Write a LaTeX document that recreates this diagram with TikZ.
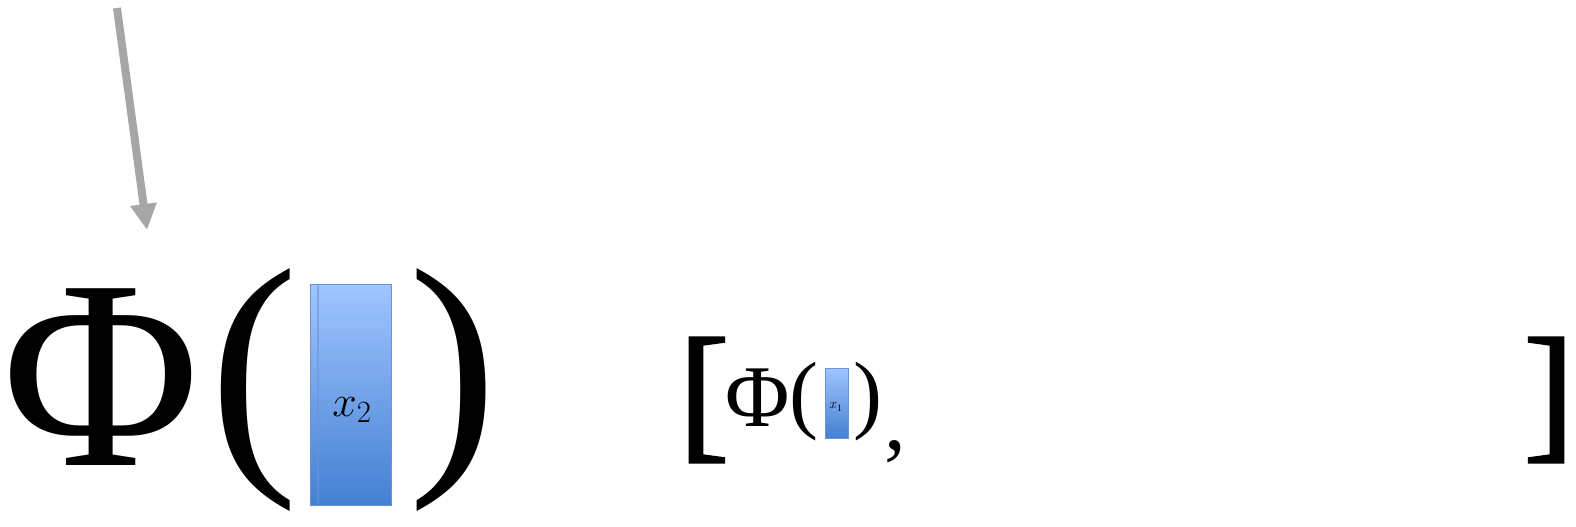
\RequirePackage{fix-cm}
\documentclass[tikz,border=0pt]{standalone}
\usepackage{fontspec}
\setmainfont{Liberation Serif}
\usepackage{tikz}
\usetikzlibrary{positioning, arrows.meta}
\definecolor{vectop}{RGB}{160, 197, 255}
\definecolor{vecbot}{RGB}{68, 128, 210}
\definecolor{vecedge}{RGB}{105, 148, 220}
\definecolor{pointer}{RGB}{166, 166, 166}

\begin{document}
\begin{tikzpicture}[
    x=1pt, y=-1pt,
    every node/.style={inner sep=0pt, outer sep=0pt, anchor=center},
    glyph/.style={font=\fontsize{#1}{#1}\selectfont},
    vecbox/.style={draw=vecedge, line width=1pt, top color=vectop, bottom color=vecbot},
    vecstripe/.style={draw=vecedge, line width=1.5pt, opacity=0.6},
    brack/.style={font=\fontsize{150}{150}\selectfont\addfontfeatures{FakeBold=2}}
]
    % Frame
    \useasboundingbox (0,0) rectangle (1576,527);

    % Big feature map
    \node[glyph=270] (bigphi) at (101,377) {Φ};
    \node[glyph=268] (bigopen) at (254,390) {(};
    \node[vecbox, minimum width=81pt, minimum height=221pt] (xtwo) at (350.5,394.5) {};
    \draw[vecstripe] ([xshift=8pt]xtwo.north west) -- ([xshift=8pt]xtwo.south west);
    \node[font=\fontsize{44}{44}\selectfont] (xtwolab) at (352,410) {$x_2$};
    \node[glyph=268] (bigclose) at (453,390) {)};

    % Pointer
    \coordinate (ptop) at (117,8);
    \coordinate (ptip) at (147,230);
    \draw[-{Triangle[width=25pt, length=26pt]}, line width=8pt, pointer] (ptop) -- (ptip);

    % Stacked list
    \node[brack] (lbrack) at (704,400) {[};
    \node[glyph=88] (smallphi) at (758,398) {Φ};
    \node[glyph=87] (smallopen) at (804,402) {(};
    \node[vecbox, line width=0.6pt, minimum width=23pt, minimum height=70pt] (xone) at (836.5,403) {};
    \node[font=\fontsize{14}{14}\selectfont] (xonelab) at (836,407) {$x_1$};
    \node[glyph=87] (smallclose) at (868,402) {)};
    \node[glyph=87] (comma) at (895,452) {,};
    \node[brack] (rbrack) at (1549,400) {]};
\end{tikzpicture}
\end{document}
